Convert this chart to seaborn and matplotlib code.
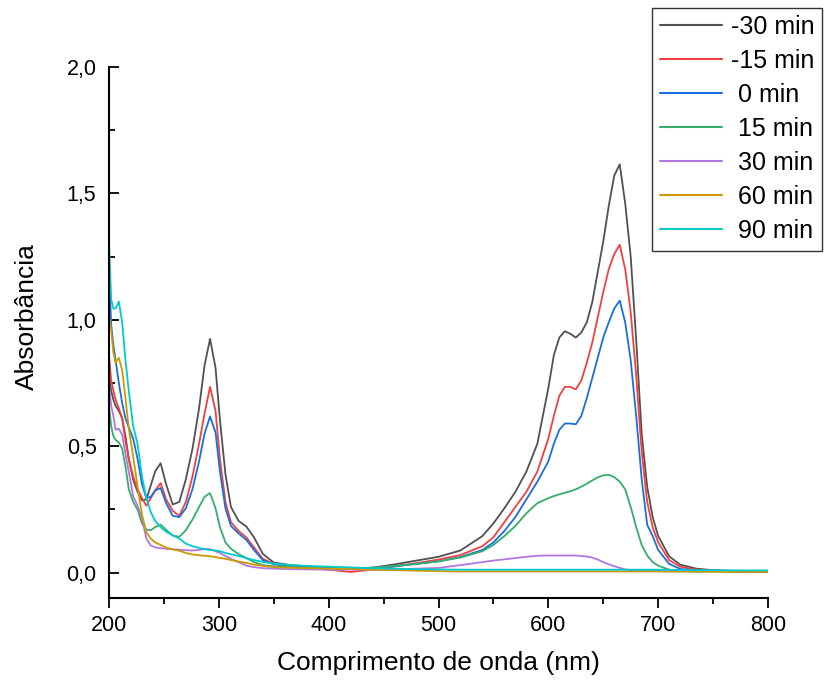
import matplotlib
matplotlib.use("Agg")
import matplotlib.pyplot as plt
from matplotlib.ticker import MultipleLocator, FuncFormatter
import pandas as pd
import seaborn as sns

sns.set_theme(style="white")
plt.rcParams['font.family'] = ['Liberation Sans', 'DejaVu Sans']
plt.rcParams['text.color'] = 'black'
plt.rcParams['axes.labelcolor'] = 'black'
plt.rcParams['xtick.color'] = 'black'
plt.rcParams['ytick.color'] = 'black'

# wavelength grid (nm)
wl = [200, 202, 204, 206, 209, 212, 215, 218, 222, 226, 230, 234, 238, 242, 247,
      252, 258, 264, 270, 276, 282, 287, 292, 297, 301, 306, 311, 318, 325, 332,
      340, 350, 365, 380, 400, 420, 440, 460, 480, 500, 520, 540, 550, 560, 570,
      580, 590, 600, 605, 610, 615, 620, 625, 630, 635, 640, 645, 650, 655, 660,
      665, 670, 675, 680, 685, 690, 695, 700, 710, 720, 735, 750, 775, 800]

a_m30 = [0.78, 0.72, 0.684, 0.66, 0.64, 0.61, 0.54, 0.45, 0.368, 0.32, 0.287, 0.29, 0.345, 0.40, 0.433,
         0.35, 0.27, 0.28, 0.37, 0.49, 0.65, 0.82, 0.925, 0.81, 0.605, 0.39, 0.26, 0.205, 0.183, 0.14,
         0.075, 0.04, 0.03, 0.025, 0.02, 0.015, 0.02, 0.033, 0.048, 0.063, 0.088, 0.145, 0.195, 0.255, 0.32,
         0.40, 0.51, 0.73, 0.86, 0.93, 0.955, 0.945, 0.93, 0.95, 0.99, 1.07, 1.19, 1.31, 1.45, 1.57,
         1.615, 1.46, 1.25, 0.92, 0.55, 0.34, 0.22, 0.145, 0.065, 0.032, 0.016, 0.01, 0.006, 0.005]

a_m15 = [0.86, 0.76, 0.72, 0.685, 0.65, 0.61, 0.52, 0.45, 0.38, 0.33, 0.295, 0.265, 0.295, 0.325, 0.354,
         0.29, 0.245, 0.225, 0.28, 0.38, 0.51, 0.63, 0.735, 0.64, 0.45, 0.28, 0.20, 0.165, 0.14, 0.10,
         0.055, 0.035, 0.025, 0.02, 0.012, 0.003, 0.012, 0.025, 0.038, 0.052, 0.07, 0.105, 0.14, 0.20, 0.26,
         0.32, 0.40, 0.53, 0.62, 0.70, 0.735, 0.735, 0.725, 0.76, 0.83, 0.91, 1.01, 1.11, 1.20, 1.26,
         1.297, 1.20, 1.03, 0.78, 0.48, 0.28, 0.18, 0.12, 0.05, 0.024, 0.012, 0.008, 0.005, 0.004]

a_0 = [1.20, 0.98, 0.90, 0.84, 0.75, 0.67, 0.61, 0.575, 0.53, 0.45, 0.35, 0.295, 0.30, 0.325, 0.335,
       0.275, 0.225, 0.22, 0.255, 0.33, 0.44, 0.55, 0.618, 0.555, 0.40, 0.255, 0.185, 0.155, 0.13, 0.09,
       0.05, 0.033, 0.027, 0.022, 0.018, 0.016, 0.018, 0.025, 0.035, 0.045, 0.062, 0.09, 0.12, 0.165, 0.22,
       0.29, 0.36, 0.44, 0.51, 0.565, 0.59, 0.59, 0.587, 0.62, 0.69, 0.77, 0.85, 0.93, 0.99, 1.045,
       1.076, 0.99, 0.84, 0.62, 0.37, 0.19, 0.145, 0.09, 0.035, 0.015, 0.009, 0.007, 0.005, 0.005]

a_15 = [0.66, 0.58, 0.54, 0.525, 0.515, 0.49, 0.42, 0.33, 0.28, 0.25, 0.195, 0.17, 0.168, 0.18, 0.19,
        0.17, 0.147, 0.142, 0.168, 0.21, 0.26, 0.30, 0.315, 0.255, 0.18, 0.12, 0.095, 0.073, 0.058, 0.042,
        0.03, 0.025, 0.022, 0.02, 0.018, 0.017, 0.02, 0.027, 0.035, 0.045, 0.06, 0.085, 0.11, 0.145, 0.185,
        0.235, 0.275, 0.295, 0.303, 0.31, 0.316, 0.322, 0.33, 0.34, 0.352, 0.365, 0.377, 0.385, 0.387, 0.378,
        0.36, 0.33, 0.26, 0.18, 0.11, 0.068, 0.042, 0.028, 0.012, 0.007, 0.005, 0.005, 0.005, 0.005]

a_30 = [0.74, 0.66, 0.62, 0.565, 0.57, 0.545, 0.47, 0.40, 0.302, 0.265, 0.215, 0.135, 0.108, 0.10, 0.097,
        0.095, 0.093, 0.091, 0.089, 0.088, 0.09, 0.094, 0.093, 0.085, 0.078, 0.066, 0.055, 0.042, 0.028, 0.022,
        0.018, 0.016, 0.014, 0.013, 0.012, 0.012, 0.012, 0.013, 0.016, 0.019, 0.03, 0.042, 0.048, 0.053, 0.058,
        0.063, 0.067, 0.068, 0.068, 0.068, 0.068, 0.068, 0.068, 0.066, 0.064, 0.06, 0.052, 0.042, 0.033, 0.026,
        0.019, 0.013, 0.01, 0.009, 0.008, 0.008, 0.008, 0.008, 0.008, 0.008, 0.008, 0.008, 0.007, 0.007]

a_60 = [1.02, 0.96, 0.87, 0.83, 0.85, 0.80, 0.69, 0.57, 0.46, 0.34, 0.23, 0.16, 0.135, 0.12, 0.11,
        0.10, 0.092, 0.087, 0.078, 0.072, 0.069, 0.067, 0.065, 0.062, 0.058, 0.055, 0.05, 0.044, 0.039, 0.032,
        0.027, 0.022, 0.02, 0.018, 0.016, 0.015, 0.012, 0.01, 0.008, 0.006, 0.005, 0.005, 0.005, 0.005, 0.005,
        0.005, 0.005, 0.005, 0.005, 0.005, 0.005, 0.005, 0.005, 0.005, 0.005, 0.005, 0.005, 0.005, 0.005, 0.005,
        0.005, 0.005, 0.005, 0.005, 0.005, 0.005, 0.005, 0.005, 0.004, 0.004, 0.004, 0.004, 0.003, 0.003]

a_90 = [1.31, 1.08, 1.045, 1.045, 1.072, 0.99, 0.84, 0.72, 0.58, 0.51, 0.38, 0.295, 0.24, 0.205, 0.18,
        0.162, 0.148, 0.135, 0.115, 0.105, 0.098, 0.093, 0.09, 0.088, 0.085, 0.078, 0.073, 0.066, 0.058, 0.05,
        0.043, 0.036, 0.03, 0.027, 0.024, 0.021, 0.018, 0.016, 0.014, 0.013, 0.012, 0.012, 0.012, 0.012, 0.012,
        0.012, 0.012, 0.012, 0.012, 0.012, 0.012, 0.012, 0.012, 0.012, 0.012, 0.012, 0.012, 0.012, 0.012, 0.012,
        0.012, 0.012, 0.012, 0.012, 0.012, 0.012, 0.012, 0.012, 0.011, 0.011, 0.01, 0.01, 0.009, 0.009]

labels = ["-30 min", "-15 min", " 0 min", " 15 min", " 30 min", " 60 min", " 90 min"]
colors = ["#515151", "#F14040", "#1A6FDF", "#37AD6B", "#B177DE", "#CC9900", "#00CBCC"]
series = [a_m30, a_m15, a_0, a_15, a_30, a_60, a_90]

df = pd.concat([pd.DataFrame({"nm": wl, "abs": s, "tempo": lab})
                for lab, s in zip(labels, series)], ignore_index=True)

fig = plt.figure(figsize=(8.24, 6.84), dpi=100)
ax = fig.add_axes([109/824, 1-598/684, 659/824, 531/684])

sns.lineplot(data=df, x="nm", y="abs", hue="tempo", hue_order=labels,
             palette=dict(zip(labels, colors)), estimator=None, sort=False,
             linewidth=1.3, legend=False, ax=ax)

ax.set_xlim(200, 800)
ax.set_ylim(-0.1, 2.0)

for s in ["top", "right"]:
    ax.spines[s].set_visible(False)
for s in ["left", "bottom"]:
    ax.spines[s].set_color("black")
    ax.spines[s].set_linewidth(1.5)

ax.xaxis.set_major_locator(MultipleLocator(100))
ax.xaxis.set_minor_locator(MultipleLocator(50))
ax.yaxis.set_major_locator(MultipleLocator(0.5))
ax.yaxis.set_minor_locator(MultipleLocator(0.25))
ax.yaxis.set_major_formatter(FuncFormatter(lambda v, p: f"{v:.1f}".replace(".", ",")))

ax.tick_params(axis="x", which="major", direction="out", length=7, width=1.3,
               labelsize=15.5, pad=5, bottom=True)
ax.tick_params(axis="x", which="minor", direction="out", length=4, width=1.3, bottom=True)
ax.tick_params(axis="y", which="major", direction="in", length=7, width=1.3,
               labelsize=15.5, pad=9, left=True)
ax.tick_params(axis="y", which="minor", direction="in", length=4, width=1.3, left=True)

ax.set_xlabel("Comprimento de onda (nm)", fontsize=19)
ax.set_ylabel("Absorbância", fontsize=19)
ax.xaxis.set_label_coords(0.5, -0.10)
ax.yaxis.set_label_coords(-0.107, 0.53)

leg = fig.legend(handles=ax.get_lines()[:7], labels=labels, loc="upper right",
                 bbox_to_anchor=(0.998, 0.989), bbox_transform=fig.transFigure,
                 fontsize=18, frameon=True, fancybox=False, edgecolor="black",
                 handlelength=2.5, labelspacing=0.4, borderpad=0.3,
                 handletextpad=0.35, borderaxespad=0)
leg.get_frame().set_linewidth(1.0)
for h in leg.get_lines():
    h.set_linewidth(1.5)

fig.savefig("out.png", dpi=100, facecolor="white")
